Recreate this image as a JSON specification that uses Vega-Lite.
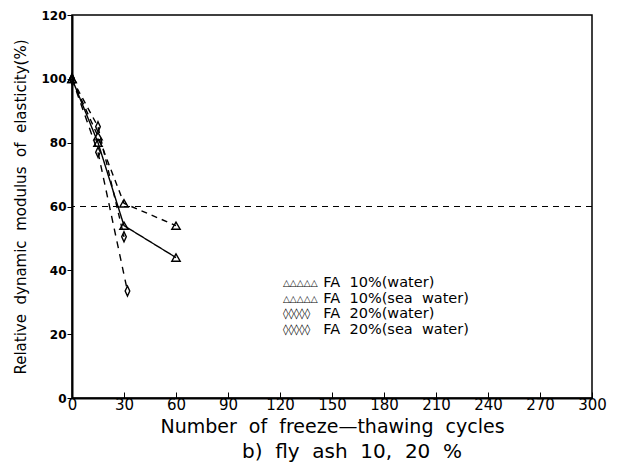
{
  "$schema": "https://vega.github.io/schema/vega-lite/v6.json",
  "autosize": "none",
  "padding": {"left": 72, "top": 15, "right": 28, "bottom": 78},
  "width": 520,
  "height": 383,
  "background": "white",
  "config": {
    "view": {"stroke": "black", "strokeWidth": 1.5},
    "font": "DejaVu Sans"
  },
  "title": {"text": "b)\u00a0\u00a0fly\u00a0\u00a0ash\u00a0\u00a010,\u00a0\u00a020\u00a0\u00a0%", "orient": "bottom", "fontSize": 20, "fontWeight": "normal", "font": "DejaVu Sans", "offset": 6, "color": "black", "dx": 20},
  "datasets": {
    "pts": [
      {"series": "FA 10%(water)", "cycles": 0, "E": 100},
      {"series": "FA 10%(water)", "cycles": 15, "E": 80},
      {"series": "FA 10%(water)", "cycles": 30, "E": 54},
      {"series": "FA 10%(water)", "cycles": 60, "E": 44},
      {"series": "FA 10%(sea water)", "cycles": 0, "E": 100},
      {"series": "FA 10%(sea water)", "cycles": 15, "E": 82},
      {"series": "FA 10%(sea water)", "cycles": 30, "E": 61},
      {"series": "FA 10%(sea water)", "cycles": 60, "E": 54},
      {"series": "FA 20%(water)", "cycles": 0, "E": 100},
      {"series": "FA 20%(water)", "cycles": 15, "E": 85},
      {"series": "FA 20%(water)", "cycles": 30, "E": 50.5},
      {"series": "FA 20%(sea water)", "cycles": 0, "E": 100},
      {"series": "FA 20%(sea water)", "cycles": 15, "E": 77},
      {"series": "FA 20%(sea water)", "cycles": 32, "E": 33.5}
    ],
    "legend": [
      {"sym": "△△△△△", "label": "FA\u00a0\u00a010%(water)", "xs": 121.7, "xl": 145, "y": 36.0, "fs": 9},
      {"sym": "△△△△△", "label": "FA\u00a0\u00a010%(sea\u00a0\u00a0water)", "xs": 121.7, "xl": 145, "y": 31.1, "fs": 9},
      {"sym": "◊◊◊◊◊", "label": "FA\u00a0\u00a020%(water)", "xs": 121.7, "xl": 145, "y": 26.2, "fs": 11},
      {"sym": "◊◊◊◊◊", "label": "FA\u00a0\u00a020%(sea\u00a0\u00a0water)", "xs": 121.7, "xl": 145, "y": 21.3, "fs": 11}
    ],
    "ref": [{"E": 60}]
  },
  "layer": [
    {
      "data": {"name": "ref"},
      "mark": {"type": "rule", "strokeDash": [6, 5], "strokeWidth": 1.2, "color": "black"},
      "encoding": {"y": {"field": "E", "type": "quantitative"}}
    },
    {
      "data": {"name": "pts"},
      "mark": {"type": "line", "color": "black", "strokeWidth": 1.4},
      "encoding": {
        "x": {"field": "cycles", "type": "quantitative", "scale": {"domain": [0, 300], "nice": false},
          "axis": {"values": [0,30,60,90,120,150,180,210,240,270,300], "title": "Number\u00a0\u00a0of\u00a0\u00a0freeze—thawing\u00a0\u00a0cycles", "titleFontSize": 19, "titleFontWeight": "normal", "titleColor": "black", "titlePadding": 5, "labelFontSize": 15, "labelColor": "black", "tickSize": -6, "tickColor": "black", "domainColor": "black", "domainWidth": 2, "labelPadding": 5, "grid": false, "labelFlush": false}},
        "y": {"field": "E", "type": "quantitative", "scale": {"domain": [0, 120], "nice": false},
          "axis": {"values": [0,10,20,30,40,50,60,70,80,90,100,110,120], "labelExpr": "datum.value % 20 == 0 ? datum.label : ''", "title": "Relative\u00a0\u00a0dynamic\u00a0\u00a0modulus\u00a0\u00a0of\u00a0\u00a0elasticity(%)", "titleFontSize": 15, "titleFontWeight": "normal", "titleColor": "black", "titlePadding": 12, "labelFontSize": 12, "labelFontWeight": "bold", "labelColor": "black", "tickSize": 5, "tickColor": "black", "domainColor": "black", "domainWidth": 2, "labelPadding": 1, "grid": false}},
        "detail": {"field": "series"},
        "strokeDash": {"field": "series", "type": "nominal", "legend": null,
          "scale": {"domain": ["FA 10%(water)", "FA 10%(sea water)", "FA 20%(water)", "FA 20%(sea water)"], "range": [[1, 0], [6, 5], [6, 5], [7, 6]]}}
      }
    },
    {
      "data": {"name": "pts"},
      "mark": {"type": "point", "filled": false, "color": "black", "strokeWidth": 1.4, "size": 70, "opacity": 1},
      "encoding": {
        "x": {"field": "cycles", "type": "quantitative"},
        "y": {"field": "E", "type": "quantitative"},
        "shape": {"field": "series", "type": "nominal", "legend": null,
          "scale": {"domain": ["FA 10%(water)", "FA 10%(sea water)", "FA 20%(water)", "FA 20%(sea water)"], "range": ["triangle-up", "triangle-up", "M0,-1.2L0.55,0L0,1.2L-0.55,0Z", "M0,-1.2L0.55,0L0,1.2L-0.55,0Z"]}}
      }
    },
    {
      "data": {"name": "legend"},
      "mark": {"type": "text", "align": "left", "baseline": "middle", "color": "black", "font": "DejaVu Sans", "fontWeight": "bold"},
      "encoding": {
        "x": {"field": "xs", "type": "quantitative"},
        "y": {"field": "y", "type": "quantitative"},
        "text": {"field": "sym"},
        "size": {"field": "fs", "type": "quantitative", "scale": null, "legend": null}
      }
    },
    {
      "data": {"name": "legend"},
      "mark": {"type": "text", "align": "left", "baseline": "middle", "fontSize": 14.5, "color": "black", "font": "DejaVu Sans"},
      "encoding": {
        "x": {"field": "xl", "type": "quantitative"},
        "y": {"field": "y", "type": "quantitative"},
        "text": {"field": "label"}
      }
    }
  ]
}
